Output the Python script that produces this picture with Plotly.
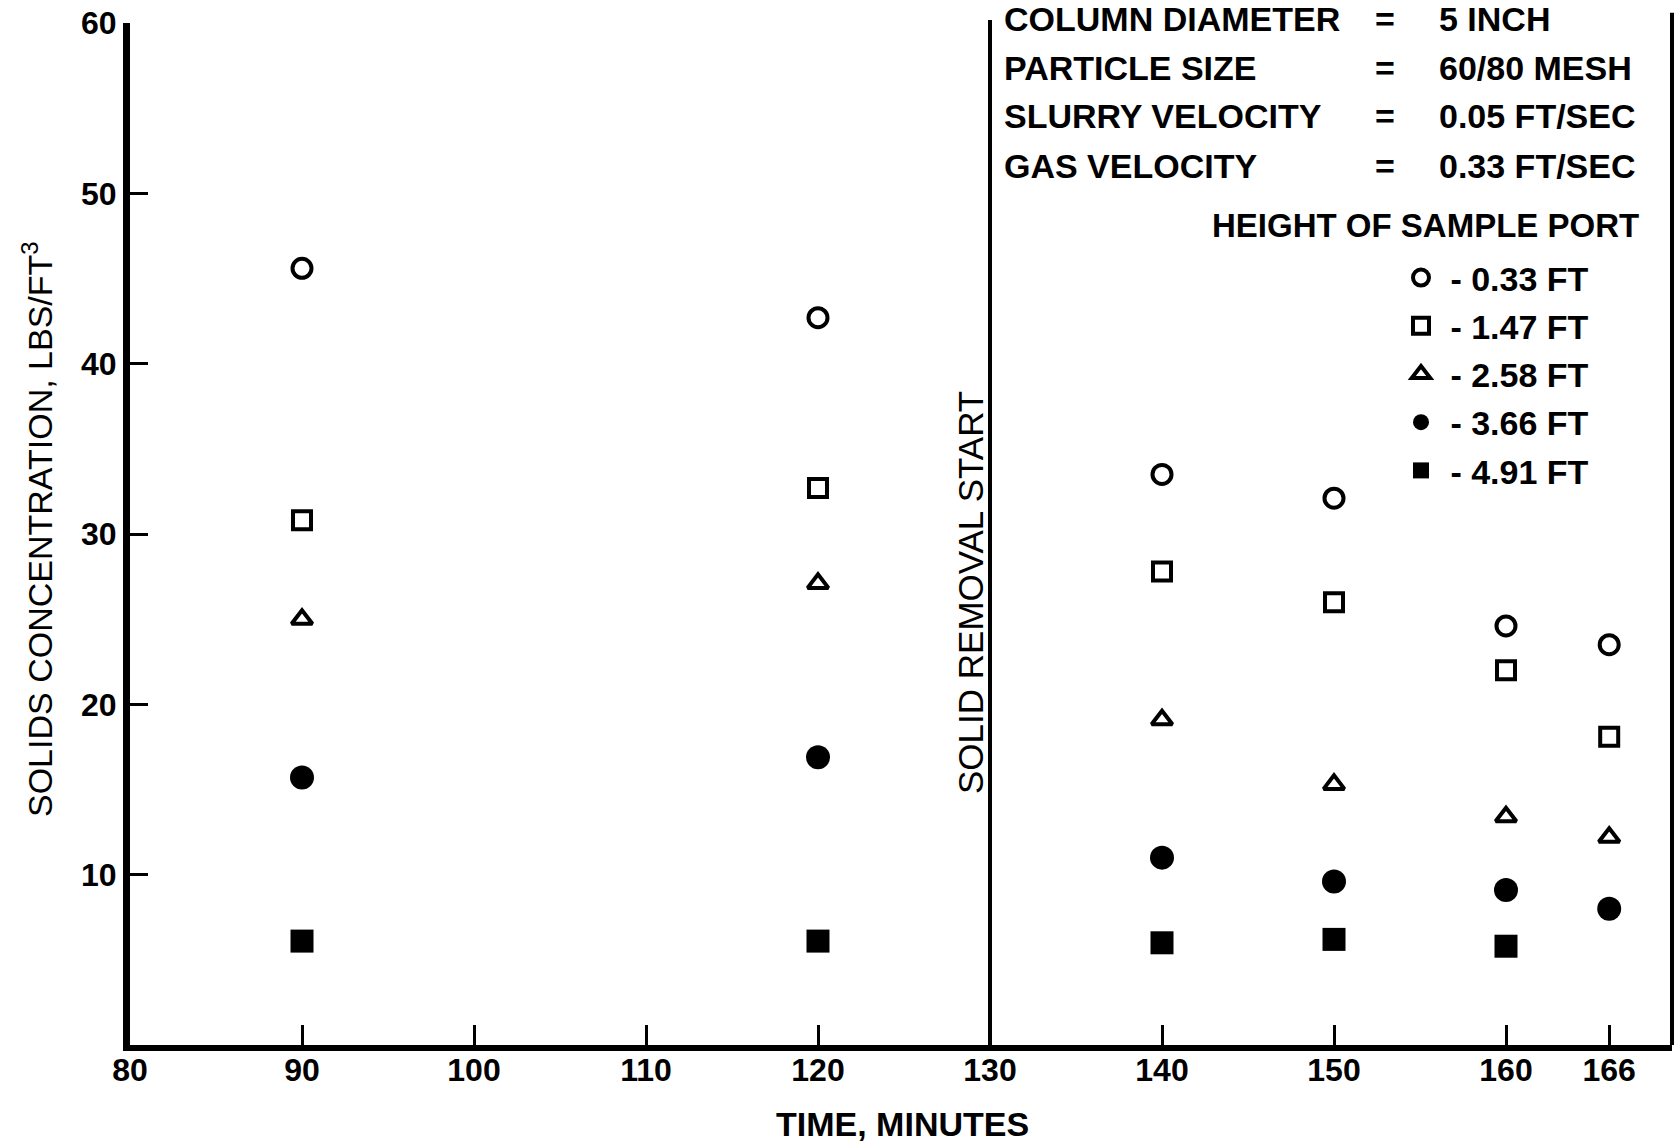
import plotly.graph_objects as go

# ---- data ----
times = [90, 120, 140, 150, 160, 166]
port_033 = [45.6, 42.7, 33.5, 32.1, 24.6, 23.5]
port_147 = [30.8, 32.7, 27.8, 26.0, 22.0, 18.1]
port_258 = [25.0, 27.1, 19.1, 15.3, 13.4, 12.2]
port_366 = [15.7, 16.9, 11.0, 9.6, 9.1, 8.0]
times_491 = [90, 120, 140, 150, 160]
port_491 = [6.1, 6.1, 6.0, 6.2, 5.8]

legend_names = ["\u00a0- 0.33 FT", "\u00a0- 1.47 FT", "\u00a0- 2.58 FT", "\u00a0- 3.66 FT", "\u00a0- 4.91 FT"]
x_ticks = [80, 90, 100, 110, 120, 130, 140, 150, 160, 166]
y_ticks = [10, 20, 30, 40, 50, 60]
removal_start = 130

header_labels = ["COLUMN DIAMETER", "PARTICLE SIZE", "SLURRY VELOCITY", "GAS VELOCITY"]
header_values = ["5 INCH", "60/80 MESH", "0.05 FT/SEC", "0.33 FT/SEC"]

FONT = "Liberation Sans, Arial, sans-serif"

# ---- geometry (pixels) ----
W, H = 1675, 1146
L, R, T, B = 130, 3, 23, 101
PW = W - L - R
PH = H - T - B


def px(xp):
    return (xp - L) / PW


def py(yp):
    return (H - B - yp) / PH


fig = go.Figure()

series = [
    (times, port_033, "circle-open", 19, 4),
    (times, port_147, "square-open", 18, 4),
    (times, port_258, "triangle-up-open", 18, 4),
    (times, port_366, "circle", 24, 0),
    (times_491, port_491, "square", 23, 0),
]
for i, (xs, ys, sym, sz, lw) in enumerate(series):
    fig.add_trace(go.Scatter(
        x=xs, y=ys, mode="markers", name=legend_names[i],
        legendgroup=f"g{i}",
        marker=dict(symbol=sym, size=sz, color="black",
                    line=dict(color="black", width=lw)),
    ))

HF = dict(family=FONT, size=34, color="black", weight="bold")
annotations = []
row_y = [19, 68, 116, 166]
for lab, val, yy in zip(header_labels, header_values, row_y):
    annotations.append(dict(text=lab, x=px(1002), y=py(yy), xref="paper", yref="paper",
                            xanchor="left", yanchor="middle", showarrow=False, font=HF))
    annotations.append(dict(text="=", x=px(1385), y=py(yy), xref="paper", yref="paper",
                            xanchor="center", yanchor="middle", showarrow=False, font=HF))
    annotations.append(dict(text=val, x=px(1437), y=py(yy), xref="paper", yref="paper",
                            xanchor="left", yanchor="middle", showarrow=False, font=HF))

annotations.append(dict(text="HEIGHT OF SAMPLE PORT", x=px(1641), y=py(225), xref="paper", yref="paper",
                        xanchor="right", yanchor="middle", showarrow=False,
                        font=dict(family=FONT, size=33, color="black", weight="bold")))
annotations.append(dict(text="SOLID REMOVAL START", x=px(971), y=py(592), xref="paper", yref="paper",
                        xanchor="center", yanchor="middle", showarrow=False, textangle=-90,
                        font=dict(family=FONT, size=35, color="black")))
annotations.append(dict(text="SOLIDS CONCENTRATION, LBS/FT<sup>3</sup>", x=px(37), y=py(529),
                        xref="paper", yref="paper", xanchor="center", yanchor="middle",
                        showarrow=False, textangle=-90,
                        font=dict(family=FONT, size=34, color="black")))
annotations.append(dict(text="TIME, MINUTES", x=px(902), y=py(1124), xref="paper", yref="paper",
                        xanchor="center", yanchor="middle", showarrow=False, font=HF))

shapes = [
    dict(type="line", xref="x", yref="paper", x0=removal_start, x1=removal_start, y0=0, y1=1.003,
         line=dict(color="black", width=4)),
    dict(type="line", xref="paper", yref="paper", x0=1, x1=1, y0=0, y1=1.01,
         line=dict(color="black", width=4)),
]

fig.update_layout(
    width=W, height=H,
    margin=dict(l=L, r=R, t=T, b=B, pad=0),
    paper_bgcolor="white", plot_bgcolor="white",
    showlegend=True,
    legend=dict(x=px(1401), y=py(249), xanchor="left", yanchor="top",
                bgcolor="rgba(0,0,0,0)", borderwidth=0, tracegroupgap=1,
                font=dict(family=FONT, size=34, color="black", weight="bold"),
                itemsizing="trace"),
    annotations=annotations,
    shapes=shapes,
    xaxis=dict(range=[80, 80 + PW / 17.2], tickvals=x_ticks, ticktext=[str(v) for v in x_ticks],
               ticks="inside", ticklen=20, tickwidth=3, tickcolor="black",
               showline=True, linewidth=6, linecolor="black", showgrid=False, zeroline=False,
               ticklabelstandoff=-8,
               tickfont=dict(family=FONT, size=32, color="black", weight="bold")),
    yaxis=dict(range=[0, 60], tickvals=y_ticks, ticktext=[str(v) for v in y_ticks],
               ticks="inside", ticklen=18, tickwidth=3, tickcolor="black",
               showline=True, linewidth=7, linecolor="black", showgrid=False, zeroline=False,
               tickfont=dict(family=FONT, size=32, color="black", weight="bold")),
)

fig.write_html("out.html", config={"displayModeBar": False},
               post_script="document.body.style.margin='0';document.body.style.overflow='hidden';")
